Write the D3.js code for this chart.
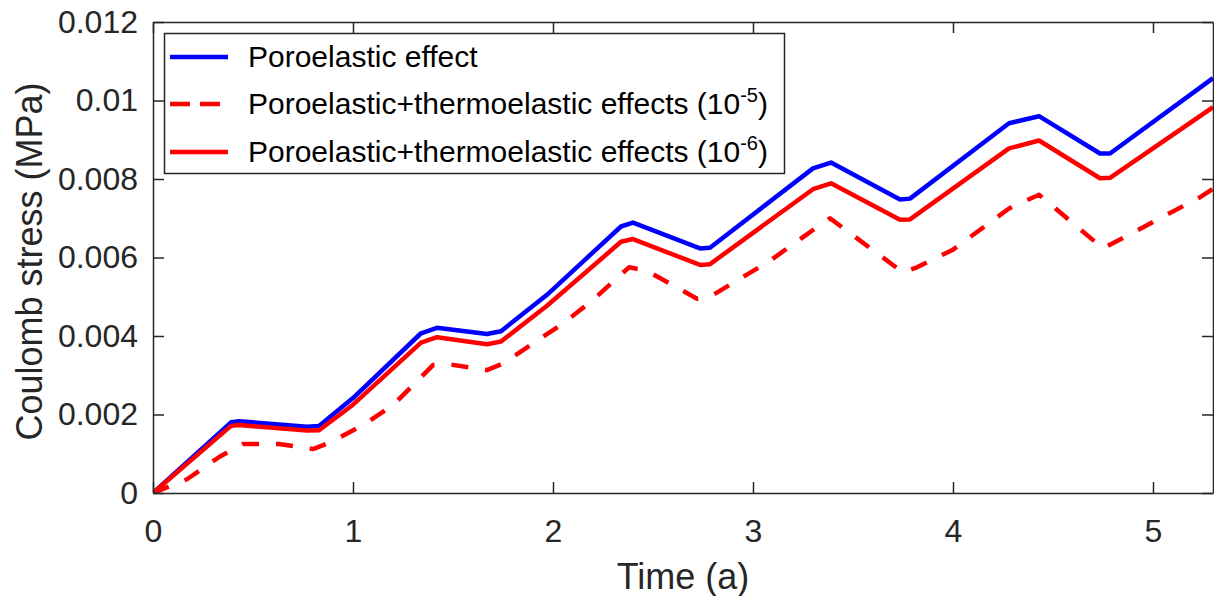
<!DOCTYPE html>
<html>
<head>
<meta charset="utf-8">
<script src="https://d3js.org/d3.v7.min.js"></script>
<style>
    body { margin: 0; background: #ffffff; }
    text { font-family: "Liberation Sans", Arial, Helvetica, sans-serif; }
</style>
</head>
<body>
<div id="my_dataviz"></div>
<script>

// time axis (a) and ticks
var xTicks = [0, 1, 2, 3, 4, 5];
var yTicks = [0, 0.002, 0.004, 0.006, 0.008, 0.01, 0.012];
var yTickLabels = ["0", "0.002", "0.004", "0.006", "0.008", "0.01", "0.012"];

// Poroelastic effect (blue)
var timePoro = [0, 0.39, 0.43, 0.77, 0.83, 1.0, 1.34, 1.42, 1.67, 1.74, 1.97, 2.34, 2.40, 2.735, 2.785,
    3.30, 3.39, 3.735, 3.785, 4.28, 4.43, 4.735, 4.785, 5.30];
var stressPoro = [0, 0.00180, 0.00183, 0.00169, 0.00171, 0.00242, 0.00407, 0.00421, 0.00405, 0.00412,
    0.00505, 0.00679, 0.00689, 0.00623, 0.00625, 0.00827, 0.00842, 0.00748, 0.00750, 0.00942,
    0.00960, 0.00865, 0.00865, 0.01057];

// Poroelastic+thermoelastic (10^-6) (red solid)
var timeThermo6 = timePoro;
var stressThermo6 = [0, 0.00171, 0.00173, 0.00159, 0.00160, 0.00225, 0.00383, 0.00397, 0.00379, 0.00386,
    0.00477, 0.00640, 0.00647, 0.00581, 0.00583, 0.00774, 0.00789, 0.00696, 0.00697, 0.00878,
    0.00898, 0.00802, 0.00803, 0.00983];

// Poroelastic+thermoelastic (10^-5) (red dashed)
var timeThermo5 = [0, 0.17, 0.335, 0.45, 0.63, 0.80, 0.89, 1.05, 1.20, 1.33, 1.40, 1.48, 1.67, 1.75,
    2.05, 2.20, 2.38, 2.47, 2.72, 2.785, 3.08, 3.30, 3.385, 3.75, 3.82, 4.0, 4.28, 4.43, 4.75,
    5.24, 5.30];
var stressThermo5 = [0, 0.00035, 0.00093, 0.00125, 0.00125, 0.00112, 0.00130, 0.00173, 0.00224, 0.00290,
    0.00326, 0.00328, 0.00313, 0.00330, 0.00432, 0.00492, 0.00575, 0.00566, 0.00495, 0.00500,
    0.00590, 0.00670, 0.00700, 0.00562, 0.00575, 0.00620, 0.00725, 0.00760, 0.00623, 0.00755,
    0.00775];

var legendNames = ["Poroelastic effect", "Poroelastic+thermoelastic effects (10", "Poroelastic+thermoelastic effects (10"];
var legendSup = ["", "-5", "-6"];

/*************************************** Start --> Line chart ***************************************/

function lineChart() {
    var width = 1214, height = 596;
    var margin = { top: 22, right: 1, bottom: 103, left: 153 };
    var innerW = width - margin.left - margin.right,
        innerH = height - margin.top - margin.bottom;
    var axisColor = "#262626";

    var svg = d3.select("#my_dataviz")
        .append("svg")
        .attr("width", width)
        .attr("height", height);

    var xScale = d3.scaleLinear().domain([0, 5.3]).range([margin.left, margin.left + innerW]);
    var yScale = d3.scaleLinear().domain([0, 0.012]).range([margin.top + innerH, margin.top]);

    svg.append("clipPath").attr("id", "plotclip")
        .append("rect")
        .attr("x", margin.left).attr("y", margin.top - 3)
        .attr("width", innerW).attr("height", innerH + 3);

    // lines
    var series = [
        { t: timePoro, v: stressPoro, color: "#0000ff", dash: null },
        { t: timeThermo5, v: stressThermo5, color: "#ff0000", dash: "17,17" },
        { t: timeThermo6, v: stressThermo6, color: "#ff0000", dash: null }
    ];

    var line = d3.line()
        .x(function (d) { return xScale(d[0]); })
        .y(function (d) { return yScale(d[1]); });

    var plot = svg.append("g").attr("clip-path", "url(#plotclip)");
    series.forEach(function (s) {
        var pts = s.t.map(function (t, i) { return [t, s.v[i]]; });
        plot.append("path")
            .datum(pts)
            .attr("d", line)
            .attr("fill", "none")
            .attr("stroke", s.color)
            .attr("stroke-width", 4.5)
            .attr("stroke-linejoin", "round")
            .attr("stroke-dasharray", s.dash);
    });

    // axes (ticks inside, box)
    svg.append("g")
        .attr("transform", "translate(0," + (margin.top + innerH) + ")")
        .call(d3.axisBottom(xScale).tickValues(xTicks).tickSizeInner(-11).tickSizeOuter(0)
            .tickPadding(26).tickFormat(d3.format("d")));

    svg.append("g")
        .attr("transform", "translate(" + margin.left + ",0)")
        .call(d3.axisLeft(yScale).tickValues(yTicks).tickSizeInner(-11).tickSizeOuter(0)
            .tickPadding(15).tickFormat(function (d, i) { return yTickLabels[i]; }));

    svg.append("g")
        .attr("transform", "translate(0," + margin.top + ")")
        .call(d3.axisTop(xScale).tickValues(xTicks).tickSizeInner(-11).tickSizeOuter(0).tickFormat(""));

    svg.append("g")
        .attr("transform", "translate(" + (margin.left + innerW) + ",0)")
        .call(d3.axisRight(yScale).tickValues(yTicks).tickSizeInner(-11).tickSizeOuter(0).tickFormat(""));

    svg.selectAll(".domain, .tick line")
        .attr("stroke", axisColor)
        .attr("stroke-width", 1.5);

    svg.selectAll(".tick text")
        .attr("fill", axisColor)
        .style("font-size", "32px");

    // X label
    svg.append("text")
        .attr("x", margin.left + innerW / 2)
        .attr("y", 589)
        .attr("text-anchor", "middle")
        .attr("fill", axisColor)
        .style("font-size", "36px")
        .text("Time (a)");

    // Y label
    svg.append("text")
        .attr("text-anchor", "middle")
        .attr("transform", "translate(42," + (margin.top + innerH / 2 + 4) + ")rotate(-90)")
        .attr("fill", axisColor)
        .style("font-size", "36px")
        .text("Coulomb stress (MPa)");

    // Legend
    var legend = svg.append("g");
    legend.append("rect")
        .attr("x", 164.5).attr("y", 33.5)
        .attr("width", 620).attr("height", 140)
        .attr("fill", "#ffffff")
        .attr("stroke", axisColor)
        .attr("stroke-width", 1.5);

    var rowY = [57, 104, 152];
    series.forEach(function (s, i) {
        legend.append("line")
            .attr("x1", 170).attr("x2", 228)
            .attr("y1", rowY[i]).attr("y2", rowY[i])
            .attr("stroke", s.color)
            .attr("stroke-width", 4.5)
            .attr("stroke-dasharray", s.dash ? "20,10" : null);

        var t = legend.append("text")
            .attr("x", 248)
            .attr("y", rowY[i] + 10)
            .attr("fill", "#000000")
            .style("font-size", "30px")
            .text(legendNames[i]);
        if (legendSup[i] !== "") {
            t.append("tspan")
                .attr("dy", -12)
                .style("font-size", "20px")
                .text(legendSup[i]);
            t.append("tspan")
                .attr("dy", 12)
                .text(")");
        }
    });
}

/*************************************** End --> Line chart ***************************************/

lineChart();

</script>
</body>
</html>
